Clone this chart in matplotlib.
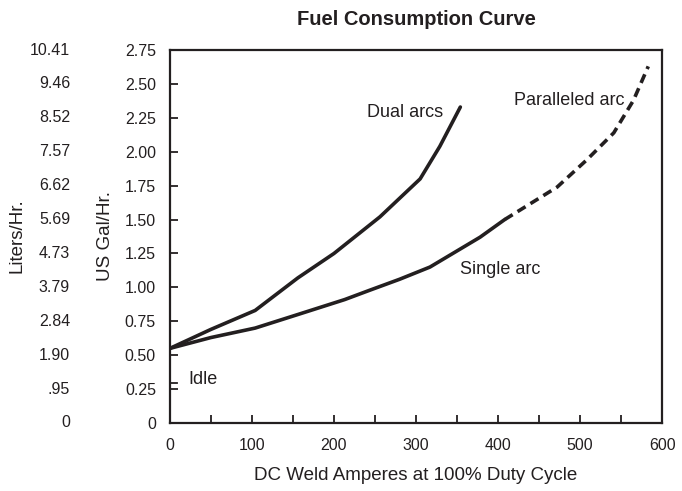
import numpy as np
import matplotlib
matplotlib.use('Agg')
import matplotlib.pyplot as plt
import matplotlib.transforms as mtransforms

plt.rcParams['font.family'] = ['Liberation Sans Narrow', 'Liberation Sans', 'DejaVu Sans']

# data
dual_amps = [0, 50, 104, 156, 200, 256, 305, 329, 354]
dual_gal = [0.55, 0.69, 0.83, 1.07, 1.25, 1.52, 1.80, 2.04, 2.33]

single_amps = [0, 50, 104, 156, 213, 244, 280, 317, 378, 408]
single_gal = [0.55, 0.63, 0.70, 0.80, 0.91, 0.98, 1.06, 1.15, 1.37, 1.50]

parallel_amps = [408, 440, 472, 508, 541, 565, 583]
parallel_gal = [1.50, 1.62, 1.74, 1.94, 2.14, 2.38, 2.63]

idle_gal = 0.295

gal_ticks = [0, 0.25, 0.5, 0.75, 1.0, 1.25, 1.5, 1.75, 2.0, 2.25, 2.5, 2.75]
gal_labels = ['0', '0.25', '0.50', '0.75', '1.00', '1.25', '1.50', '1.75',
              '2.00', '2.25', '2.50', '2.75']
liter_labels = ['0', '.95', '1.90', '2.84', '3.79', '4.73', '5.69', '6.62',
                '7.57', '8.52', '9.46', '10.41']
amp_ticks = list(range(0, 601, 50))

ink = '#231f20'

fig = plt.figure(figsize=(6.82, 4.91), dpi=100)
ax = fig.add_axes([0.249, 0.1385, 0.722, 0.7595])

lw = 2.6
ax.plot(dual_amps, dual_gal, color=ink, lw=lw, solid_capstyle='round', solid_joinstyle='round')
ax.plot(single_amps, single_gal, color=ink, lw=lw, solid_capstyle='round', solid_joinstyle='round')
ax.plot(parallel_amps, parallel_gal, color=ink, lw=lw, linestyle=(0, (2.6, 1.6)))

# idle marker
ax.plot([0, 9], [idle_gal, idle_gal], color=ink, lw=1.3)
ax.text(40, 0.32, 'Idle', fontsize=13, ha='center', va='center', color=ink)

ax.text(287, 2.29, 'Dual arcs', fontsize=13, ha='center', va='center', color=ink)
ax.text(487, 2.38, 'Paralleled arc', fontsize=13, ha='center', va='center', color=ink)
ax.text(403, 1.13, 'Single arc', fontsize=13, ha='center', va='center', color=ink)

ax.set_xlim(0, 600)
ax.set_ylim(0, 2.75)
ax.set_xticks(amp_ticks)
ax.set_xticklabels([str(a) if a % 100 == 0 else '' for a in amp_ticks])
ax.set_yticks(gal_ticks)
ax.set_yticklabels(gal_labels)
ax.tick_params(direction='in', length=6, width=1.3, labelsize=11.5,
               colors=ink, labelcolor=ink)
ax.tick_params(axis='y', pad=10)
ax.tick_params(axis='x', pad=11)
for s in ax.spines.values():
    s.set_linewidth(1.6)
    s.set_color(ink)

# liters scale as a second column of labels
trans = mtransforms.blended_transform_factory(fig.transFigure, ax.transData)
for y, lab in zip(gal_ticks, liter_labels):
    ax.text(70 / 682, y, lab, transform=trans, ha='right', va='center',
            fontsize=11.5, color=ink)

fig.text(106 / 682, 1 - 236 / 491, 'US Gal/Hr.', rotation=90, ha='center',
         va='center', fontsize=13.5, color=ink)
fig.text(17 / 682, 1 - 236 / 491, 'Liters/Hr.', rotation=90, ha='center',
         va='center', fontsize=13.5, color=ink)

ax.set_xlabel('DC Weld Amperes at 100% Duty Cycle', fontsize=13.5,
              color=ink, labelpad=10)
ax.set_title('Fuel Consumption Curve', fontsize=14.5, fontweight='bold',
             color=ink, pad=18)

fig.savefig('out.png', dpi=100)
